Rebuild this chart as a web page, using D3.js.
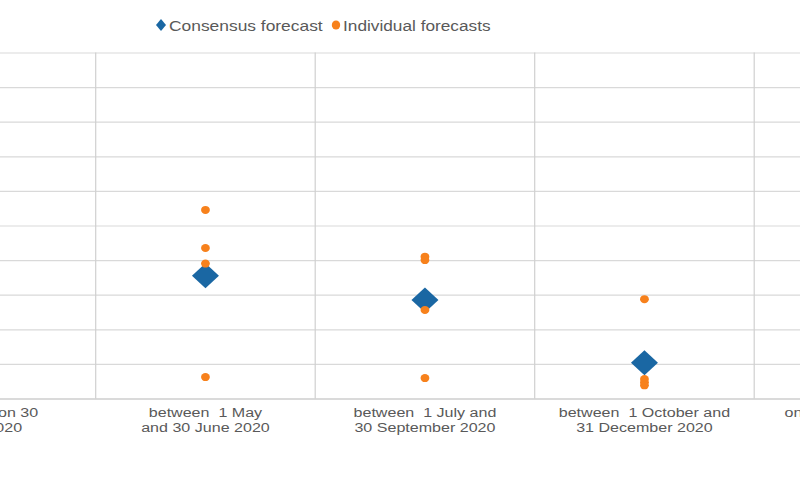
<!DOCTYPE html>
<html>
<head>
<meta charset="utf-8">
<script src="https://cdn.jsdelivr.net/npm/d3@7"></script>
<style>
  body { margin: 0; background: #fff; }
  svg { display: block; font-family: "Liberation Sans", Arial, sans-serif; }
</style>
</head>
<body>
<svg id="chart" width="800" height="480"></svg>
<script>
// категории (подписи по строкам)
const categories = [
  ["situation on 30", "April 2020"],
  ["between  1 May", "and 30 June 2020"],
  ["between  1 July and", "30 September 2020"],
  ["between  1 October and", "31 December 2020"],
  ["on 31 December 2020"]
];
const consensus = [null, 3.55, 2.85, 1.03, null];
const individual = [
  [],
  [5.45, 4.35, 3.9, 0.62],
  [4.1, 4.0, 2.56, 0.59],
  [2.87, 0.56, 0.47, 0.38],
  []
];
const yTicks = [0, 1, 2, 3, 4, 5, 6, 7, 8, 9, 10];

const svg = d3.select("#chart");
const width = 800, height = 480;

// плот обрезан с краёв, поэтому диапазон выходит за svg
const margin = { top: 52.5, bottom: 81.5, left: -123.8, right: -173.7 };
const boundsWidth = width - margin.left - margin.right;
const boundsHeight = height - margin.top - margin.bottom;

const labels = categories.map(d => d.join(" "));

const scaleX = d3.scaleBand()
  .domain(labels)
  .range([0, boundsWidth]);

const scaleY = d3.scaleLinear()
  .domain([0, 10])
  .range([boundsHeight, 0]);

const g = svg.append("g")
  .attr("transform", `translate(${margin.left}, ${margin.top})`);

// горизонтальная сетка
g.append("g")
  .call(d3.axisLeft(scaleY).tickValues(yTicks).tickSize(-boundsWidth).tickFormat(""))
  .call(a => a.select(".domain").remove())
  .selectAll("line")
  .attr("stroke", "#d9d9d9")
  .attr("stroke-width", 1.2);

// вертикальные разделители категорий
g.selectAll(".sep")
  .data(labels.slice(1))
  .enter()
  .append("line")
  .attr("x1", d => scaleX(d))
  .attr("x2", d => scaleX(d))
  .attr("y1", 0)
  .attr("y2", boundsHeight)
  .attr("stroke", "#d0d0d0")
  .attr("stroke-width", 1.2);

// ось X
const xAxis = g.append("g")
  .attr("transform", `translate(0, ${boundsHeight})`)
  .call(d3.axisBottom(scaleX).tickSize(0).tickFormat(""));
xAxis.select(".domain").attr("stroke", "#c8c8c8").attr("stroke-width", 1.2);

g.selectAll(".xlab")
  .data(categories)
  .enter()
  .append("text")
  .attr("text-anchor", "middle")
  .attr("fill", "#595959")
  .attr("font-size", 13.5)
  .style("white-space", "pre")
  .attr("transform", (d, i) => `translate(${scaleX(labels[i]) + scaleX.bandwidth() / 2}, ${boundsHeight + 18}) scale(1.19, 1)`)
  .selectAll("tspan")
  .data(d => d)
  .enter()
  .append("tspan")
  .attr("x", 0)
  .attr("dy", (d, i) => i === 0 ? 0 : 16)
  .text(d => d);

const diamond = (cx, cy, w, h) =>
  `M${cx},${cy - h / 2}L${cx + w / 2},${cy}L${cx},${cy + h / 2}L${cx - w / 2},${cy}Z`;

// консенсус-прогноз
g.selectAll(".cons")
  .data(consensus.map((v, i) => ({ v, c: labels[i] })).filter(d => d.v !== null))
  .enter()
  .append("path")
  .attr("d", d => diamond(scaleX(d.c) + scaleX.bandwidth() / 2, scaleY(d.v), 27, 25))
  .attr("fill", "#1a67a3");

// индивидуальные прогнозы
const pts = [];
individual.forEach((arr, i) => arr.forEach(v => pts.push({ v, c: labels[i] })));
g.selectAll(".ind")
  .data(pts)
  .enter()
  .append("ellipse")
  .attr("cx", d => scaleX(d.c) + scaleX.bandwidth() / 2)
  .attr("cy", d => scaleY(d.v))
  .attr("rx", 4.4)
  .attr("ry", 4)
  .attr("fill", "#f7811c");

// легенда
const leg = svg.append("g").attr("transform", "translate(0, 25)");
leg.append("path").attr("d", diamond(161, 0, 10, 12)).attr("fill", "#1a67a3");
leg.append("text").attr("transform", "translate(169, 5.5) scale(1.16, 1)").attr("fill", "#595959")
  .attr("font-size", 15).text("Consensus forecast");
leg.append("ellipse").attr("cx", 336).attr("cy", 0).attr("rx", 4.2).attr("ry", 4.5).attr("fill", "#f7811c");
leg.append("text").attr("transform", "translate(343, 5.5) scale(1.15, 1)").attr("fill", "#595959")
  .attr("font-size", 15).text("Individual forecasts");
</script>
</body>
</html>
